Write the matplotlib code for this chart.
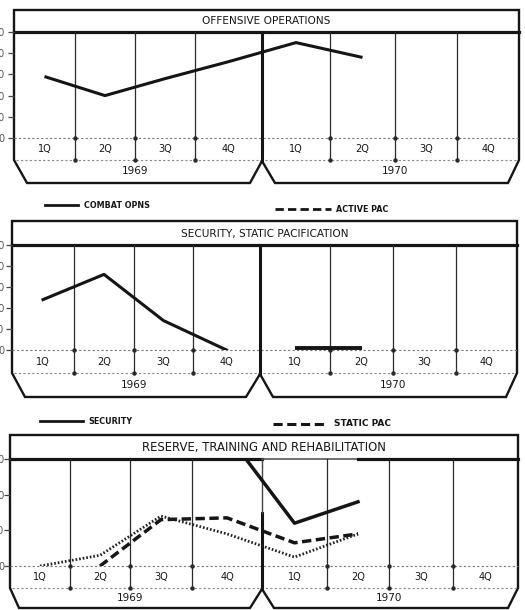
import numpy as np
import matplotlib
matplotlib.use('Agg')
import matplotlib.pyplot as plt
from matplotlib.transforms import blended_transform_factory

plt.rcParams['font.family'] = ['DejaVu Sans']

W, H = 525, 610

# ---------------- data ----------------
quarters = ['1Q', '2Q', '3Q', '4Q', '1Q', '2Q', '3Q', '4Q']
years = ['1969', '1970']
titles = ['OFFENSIVE OPERATIONS',
          'SECURITY, STATIC PACIFICATION',
          'RESERVE, TRAINING AND REHABILITATION']

# panel 1 (1Q69 .. 2Q70)
combat_opns = [29, 20, 28, 36, 45, 38]
# panel 2
security_static_1969 = [24, 36, 14, 0]      # 1Q69 .. 4Q69
security_static_1970 = [1, 1]               # 1Q70 .. 2Q70
# panel 3
security = [37, 12, 18]                     # 4Q69 .. 2Q70
static_pac = [0, 13, 13.5, 6.5, 9]          # 2Q69 .. 2Q70
other_series = [0, 3, 14, 9, 2.5, 9]        # 1Q69 .. 2Q70 (dotted)

yticks_top = [0, 10, 20, 30, 40, 50]
yticks_bottom = [0, 10, 20, 30]
legend_row1 = ['COMBAT OPNS', 'ACTIVE PAC']
legend_row2 = ['SECURITY', 'STATIC PAC']

# ---------------- layout (pixels) ----------------
panels = [
    dict(top=10, tbar=32, base=138, qrow=160, bot=183,
         bounds=[14, 75, 135, 195, 262, 330, 395, 457, 519],
         bl=13, bm=(12, 13), br=11, ymax=50, ticks=yticks_top, tfs=7.6, pad=2.6,
         thin_mid=None),
    dict(top=221, tbar=245, base=350, qrow=373, bot=397,
         bounds=[12, 74, 134, 193, 260, 330, 393, 456, 517],
         bl=13, bm=(14, 13), br=11, ymax=50, ticks=yticks_top, tfs=7.6, pad=1.3,
         thin_mid=None),
    dict(top=435, tbar=459, base=566, qrow=588, bot=608,
         bounds=[10, 70, 130, 192, 262, 327, 389, 453, 518],
         bl=9, bm=(12, 12), br=10, ymax=30, ticks=yticks_bottom, tfs=8.4, pad=0.2,
         thin_mid=513),
]

INK = '#151515'
fig = plt.figure(figsize=(W / 100, H / 100), dpi=100)
fig.patch.set_facecolor('white')

ov = fig.add_axes([0, 0, 1, 1], zorder=0)
ov.set_xlim(0, W)
ov.set_ylim(H, 0)
ov.axis('off')

centers = np.arange(8) + 0.5


def make_scale(bounds):
    xs = np.concatenate([[-8.0], np.arange(9.0), [16.0]])
    step_l = bounds[1] - bounds[0]
    step_r = bounds[-1] - bounds[-2]
    px = np.concatenate([[bounds[0] - 8 * step_l], np.array(bounds, float),
                         [bounds[-1] + 8 * step_r]])

    def fwd(x):
        return np.interp(x, xs, px)

    def inv(p):
        return np.interp(p, px, xs)
    return fwd, inv


axes = []
for i, p in enumerate(panels):
    L, R = p['bounds'][0], p['bounds'][-1]
    mid = p['bounds'][4]
    top, tbar, base, qrow, bot = p['top'], p['tbar'], p['base'], p['qrow'], p['bot']

    # outer frame with bevelled year tabs
    fx = [mid, mid - p['bm'][0], L + p['bl'], L, L, R, R, R - p['br'], mid + p['bm'][1], mid]
    fy = [qrow + 1, bot, bot, qrow, top, top, qrow, bot, bot, qrow + 1]
    ov.plot(fx, fy, color=INK, lw=1.7, solid_joinstyle='miter')
    # title bar line
    if p['thin_mid'] is None:
        ov.plot([L, R], [tbar, tbar], color=INK, lw=2.3)
    else:
        ov.plot([L, mid], [tbar, tbar], color=INK, lw=2.3)
        ov.plot([mid, mid + 96], [tbar, tbar], color='#555555', lw=1.2)
        ov.plot([mid + 96, R], [tbar, tbar], color=INK, lw=2.3)
    # dotted guide lines of the quarter row
    ov.plot([L, R], [base, base], color='#777777', lw=0.8, ls=(0, (2, 2)))
    ov.plot([L + 2, R - 2], [qrow, qrow], color='#888888', lw=0.8, ls=(0, (2, 2)))
    ov.text((L + R) / 2, (top + tbar) / 2 + 0.5, titles[i], ha='center', va='center',
            fontsize=p['tfs'], color=INK)

    ax = fig.add_axes([L / W, 1 - base / H, (R - L) / W, (base - tbar) / H], zorder=2)
    fwd, inv = make_scale(p['bounds'])
    ax.set_xscale('function', functions=(fwd, inv))
    ax.set_xlim(0, 8)
    ax.set_ylim(0, p['ymax'])
    ax.patch.set_visible(False)
    for s in ax.spines.values():
        s.set_visible(False)
    ax.set_xticks([])
    ax.set_yticks(p['ticks'])
    ax.set_yticklabels([str(t) for t in p['ticks']])
    ax.tick_params(axis='y', direction='out', length=4, width=0.9, color='#444444',
                   pad=p['pad'], labelsize=7, labelcolor='#555555')

    trans = blended_transform_factory(ax.transData, ax.transAxes)
    hpx = base - tbar
    y_q = -(qrow - base) / hpx
    for k in [1, 2, 3, 5, 6, 7]:
        ax.plot([k, k], [y_q, 1], transform=trans, clip_on=False, color='#2a2a2a', lw=0.9)
        ax.plot([k, k], [0, y_q], transform=trans, clip_on=False, ls='none',
                marker='o', ms=2.2, color='#2a2a2a')
    y_apex = -(qrow + 1 - base) / hpx
    if p['thin_mid'] is None:
        ax.plot([4, 4], [y_apex, 1], transform=trans, clip_on=False, color=INK, lw=2.2)
    else:
        y_split = (base - p['thin_mid']) / hpx
        ax.plot([4, 4], [y_apex, y_split], transform=trans, clip_on=False,
                color=INK, lw=2.2)
        ax.plot([4, 4], [y_split, 1], transform=trans, clip_on=False,
                color='#444444', lw=1.0)

    for j, q in enumerate(quarters):
        ax.text(centers[j], -(qrow - base) / 2 / hpx, q, transform=trans,
                ha='center', va='center', fontsize=7, color=INK)
    for j, yr in enumerate(years):
        ax.text(2 + 4 * j, -((qrow + bot) / 2 - base) / hpx, yr, transform=trans,
                ha='center', va='center', fontsize=7.5, color=INK)
    axes.append(ax)

# ---------------- series ----------------
lw_data = 2.2
ax1, ax2, ax3 = axes
ax1.plot(centers[:6], combat_opns, color=INK, lw=lw_data, solid_capstyle='butt')

ax2.plot(centers[:4], security_static_1969, color=INK, lw=lw_data)
ax2.plot(centers[4:6], security_static_1970, color=INK, lw=lw_data + 0.6,
         solid_capstyle='butt')

ax3.plot(centers[3:6], security, color=INK, lw=lw_data + 0.3)
ax3.plot(centers[1:6], static_pac, color=INK, lw=lw_data + 0.3, ls=(0, (2.7, 1.3)))
ax3.plot(centers[:6], other_series, color='#222222', lw=2.0, ls=(0, (0.6, 0.7)))

# ---------------- legends ----------------
ov.plot([45, 78], [205, 205], color=INK, lw=2.0)
ov.text(84, 205, legend_row1[0], ha='left', va='center', fontsize=5.8,
        fontweight='bold', color=INK)
ov.plot([275, 331], [209, 209], color=INK, lw=2.0, ls=(0, (3, 1.5)))
ov.text(336, 209, legend_row1[1], ha='left', va='center', fontsize=5.8,
        fontweight='bold', color=INK)

ov.plot([40, 83], [421, 421], color=INK, lw=2.0)
ov.text(88, 421, legend_row2[0], ha='left', va='center', fontsize=5.8,
        fontweight='bold', color=INK)
ov.plot([273, 328], [424, 424], color=INK, lw=2.2, ls=(0, (3, 1.5)))
ov.text(334, 424, legend_row2[1], ha='left', va='center', fontsize=6.5,
        fontweight='bold', color=INK)

fig.savefig('out.png', dpi=100, facecolor='white')
